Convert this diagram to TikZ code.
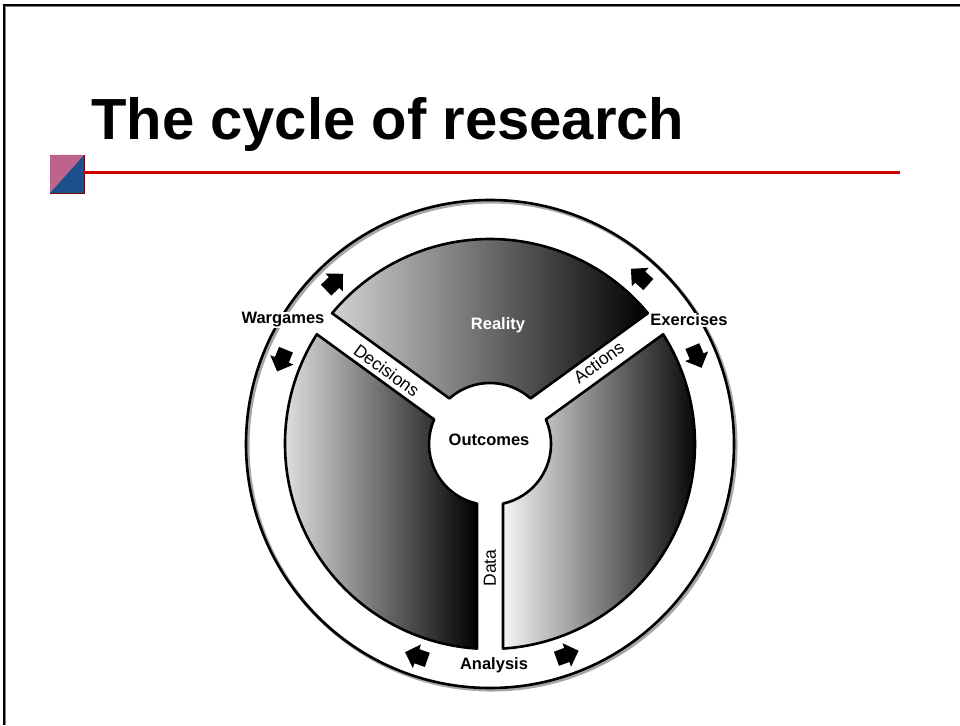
\documentclass[tikz,border=0pt]{standalone}
\usepackage{fontspec}
\setmainfont{Liberation Sans}
\newfontfamily\bandfont{Liberation Sans}
\usepackage{tikz}
\definecolor{logopink}{RGB}{190,100,140}
\definecolor{logoblue}{RGB}{25,80,140}

\begin{document}
\begin{tikzpicture}[x=1pt, y=1pt,
  sector/.style={draw=black, line width=2.6pt, line join=round},
  ringarrow/.style={fill=black},
  ringlabel/.style={fill=white, inner sep=1pt, font=\fontsize{16.5}{18}\selectfont\bfseries},
  bandlabel/.style={inner sep=0pt, text=black, font=\fontsize{17.5}{19}\bandfont}]
\useasboundingbox (0,0) rectangle (960,725);
% frame of the slide
\draw[gray, line width=1pt] (5.5,0) -- (5.5,718.5) -- (960,718.5);
\draw[line width=1.2pt] (4,0) -- (4,720) -- (960,720);

% title and rule
\node[anchor=base west, inner sep=0pt, font=\fontsize{58}{64}\selectfont\bfseries] (title) at (91,585) {The cycle of research};
\fill[logopink] (50,532) -- (50,570) -- (84,570) -- cycle;
\fill[logoblue] (50,532) -- (84,532) -- (84,570) -- cycle;
\draw[red!45!black, line width=0.8pt] (50,532) -- (84,532) -- (84,570);
\draw[line width=3pt, red!80!black] (84,552) -- (900,552);

% the cycle
\coordinate (C) at (490,281);
\begin{scope}[shift={(C)}]
\draw[gray!70, line width=3.5pt] (1.8,-1.8) circle[radius=244];
\draw[line width=2.6pt] (0,0) circle[radius=244];
\draw[sector, left color=gray!35, right color=black] (39.64:205) arc[start angle=39.64, end angle=140.36, radius=205] -- (131.7:61) arc[start angle=131.7, end angle=48.3, radius=61] -- cycle;
\draw[sector, left color=white, right color=black] (147.64:205) arc[start angle=147.64, end angle=266.36, radius=205] -- (257.7:61) arc[start angle=257.7, end angle=156.3, radius=61] -- cycle;
\draw[sector, left color=gray!8, right color=black] (-86.36:205) arc[start angle=-86.36, end angle=32.36, radius=205] -- (23.7:61) arc[start angle=23.7, end angle=-77.7, radius=61] -- cycle;
\foreach \a/\r in {134/44, 158/248, 48/138, 23/-67, 251/161, 290/20}
  \fill[ringarrow, shift={(\a:224.5)}, rotate=\r] (-11,-7.5) -- (0,-7.5) -- (0,-12.5) -- (12.5,0) -- (0,12.5) -- (0,7.5) -- (-11,7.5) -- cycle;
\node[ringlabel, text=white, fill=none] (reality) at (8,119) {Reality};
\node[ringlabel, fill=none] (outcomes) at (-1,4) {Outcomes};
\node[bandlabel, rotate=-36] (decisions) at (144.5:127) {Decisions};
\node[bandlabel, rotate=36] (actions) at (37:136) {Actions};
\node[bandlabel, rotate=90] (data) at (270:124) {Data};
\node[ringlabel] (wargames) at (-207,124) {Wargames};
\node[ringlabel] (exercises) at (199,124) {Exercises};
\node[ringlabel] (analysis) at (4,-221) {Analysis};
\end{scope}
\end{tikzpicture}
\end{document}
